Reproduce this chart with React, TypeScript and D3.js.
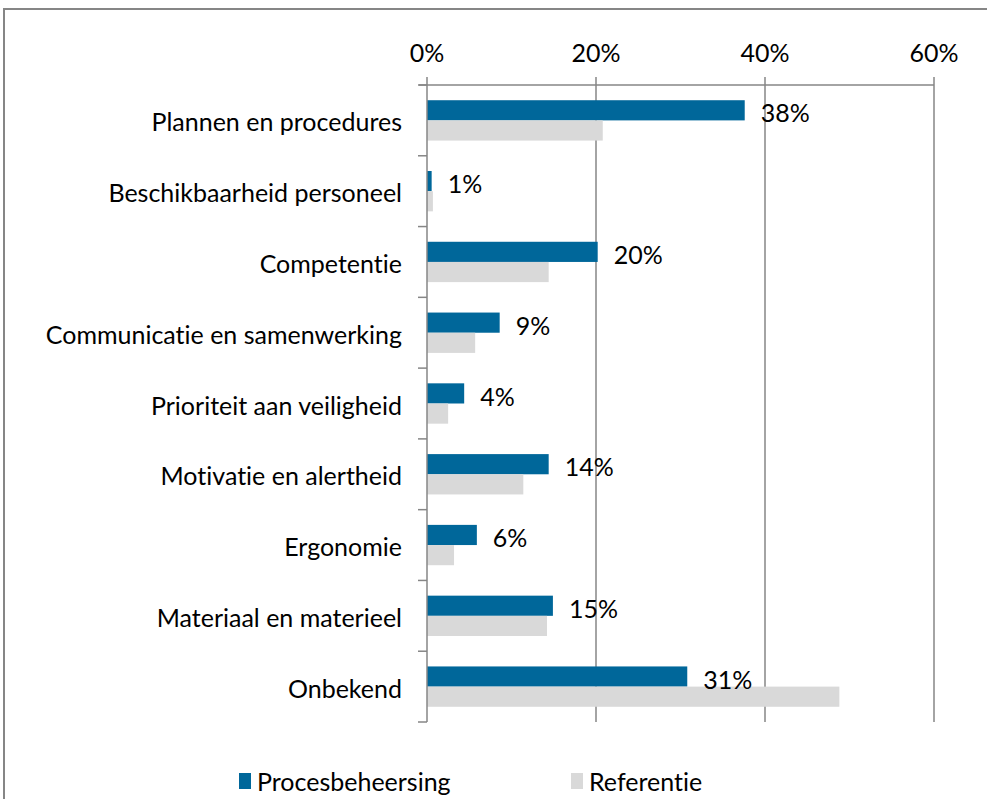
import React from "react";
import * as d3 from "d3";

const categories = [
  "Plannen en procedures",
  "Beschikbaarheid personeel",
  "Competentie",
  "Communicatie en samenwerking",
  "Prioriteit aan veiligheid",
  "Motivatie en alertheid",
  "Ergonomie",
  "Materiaal en materieel",
  "Onbekend",
];
const procesValues = [37.6, 0.55, 20.2, 8.6, 4.4, 14.4, 5.9, 14.9, 30.8];
const procesLabels = ["38%", "1%", "20%", "9%", "4%", "14%", "6%", "15%", "31%"];
const referentieValues = [20.8, 0.7, 14.4, 5.7, 2.5, 11.4, 3.2, 14.2, 48.8];
const xTicks = [0, 20, 40, 60];
const seriesNames = ["Procesbeheersing", "Referentie"];

const W = 987;
const H = 799;
const left = 427;
const right = 934;
const top = 85;
const bottom = 722;
const BLUE = "#00679A";
const GRAY = "#D9D9D9";
const AXIS = "#868686";
const FONT = "Lato, 'Open Sans', sans-serif";
const FS = 25;
const SY = 1.02;

export default function App() {
  const x = d3.scaleLinear().domain([0, 60]).range([left, right]);
  const y = d3.scaleBand<string>().domain(categories).range([top, bottom]);
  const bw = y.bandwidth();
  const barH = bw * 0.285;
  const gap = (bw - 2 * barH) / 2;

  const stretched = (tx: number, ty: number, props: any, txt: string, key?: any) => (
    <g key={key} transform={`translate(${tx},${ty}) scale(1,${SY})`}>
      <text x={0} y={0} style={{ fontVariantLigatures: "none", fontFeatureSettings: "'liga' 0, 'dlig' 0" }} {...props}>{txt}</text>
    </g>
  );

  return (
    <svg
      width={W}
      height={H}
      style={{ position: "absolute", left: 0, top: 0, background: "#fff" }}
      fontFamily={FONT}
    >
      <rect x={4} y={9} width={W + 10} height={H + 10} fill="#fff" stroke={AXIS} strokeWidth={2} />
      {/* gridlines */}
      {xTicks.slice(1).map((t) => (
        <line key={"g" + t} x1={x(t)} x2={x(t)} y1={top} y2={bottom} stroke={AXIS} strokeWidth={1.5} />
      ))}
      {/* top axis */}
      <line x1={left - 8} x2={right} y1={top} y2={top} stroke={AXIS} strokeWidth={1.5} />
      {xTicks.map((t) => (
        <line key={"t" + t} x1={x(t)} x2={x(t)} y1={top - 8} y2={top} stroke={AXIS} strokeWidth={1.5} />
      ))}
      {xTicks.map((t) =>
        stretched(x(t), 52, { textAnchor: "middle", dominantBaseline: "central", fontSize: FS, fill: "#000" }, `${t}%`, "l" + t)
      )}
      {/* bars */}
      {categories.map((c, i) => (
        <g key={c}>
          <rect x={x(0)} y={(y(c) as number) + gap} width={x(procesValues[i]) - x(0)} height={barH} fill={BLUE} />
          <rect x={x(0)} y={(y(c) as number) + gap + barH} width={x(referentieValues[i]) - x(0)} height={barH} fill={GRAY} />
        </g>
      ))}
      {/* category axis */}
      <line x1={left} x2={left} y1={top} y2={bottom} stroke={AXIS} strokeWidth={1.5} />
      {d3.range(categories.length + 1).map((k) => {
        const yy = top + k * bw;
        return <line key={"ct" + k} x1={left - 9} x2={left} y1={yy} y2={yy} stroke={AXIS} strokeWidth={1.5} />;
      })}
      {categories.map((c, i) =>
        stretched(402, (y(c) as number) + bw / 2 + 1, { textAnchor: "end", dominantBaseline: "central", fontSize: FS, fill: "#000" }, c, "c" + i)
      )}
      {categories.map((c, i) =>
        stretched(x(procesValues[i]) + 16, (y(c) as number) + gap + barH / 2 + 2, { textAnchor: "start", dominantBaseline: "central", fontSize: FS, fill: "#000" }, procesLabels[i], "d" + i)
      )}
      {/* legend */}
      <rect x={239} y={773} width={12} height={16} fill={BLUE} />
      {stretched(257, 781, { dominantBaseline: "central", fontSize: FS, fill: "#000" }, seriesNames[0])}
      <rect x={571} y={773} width={12} height={16} fill={GRAY} />
      {stretched(589, 781, { dominantBaseline: "central", fontSize: FS, fill: "#000" }, seriesNames[1])}
    </svg>
  );
}
